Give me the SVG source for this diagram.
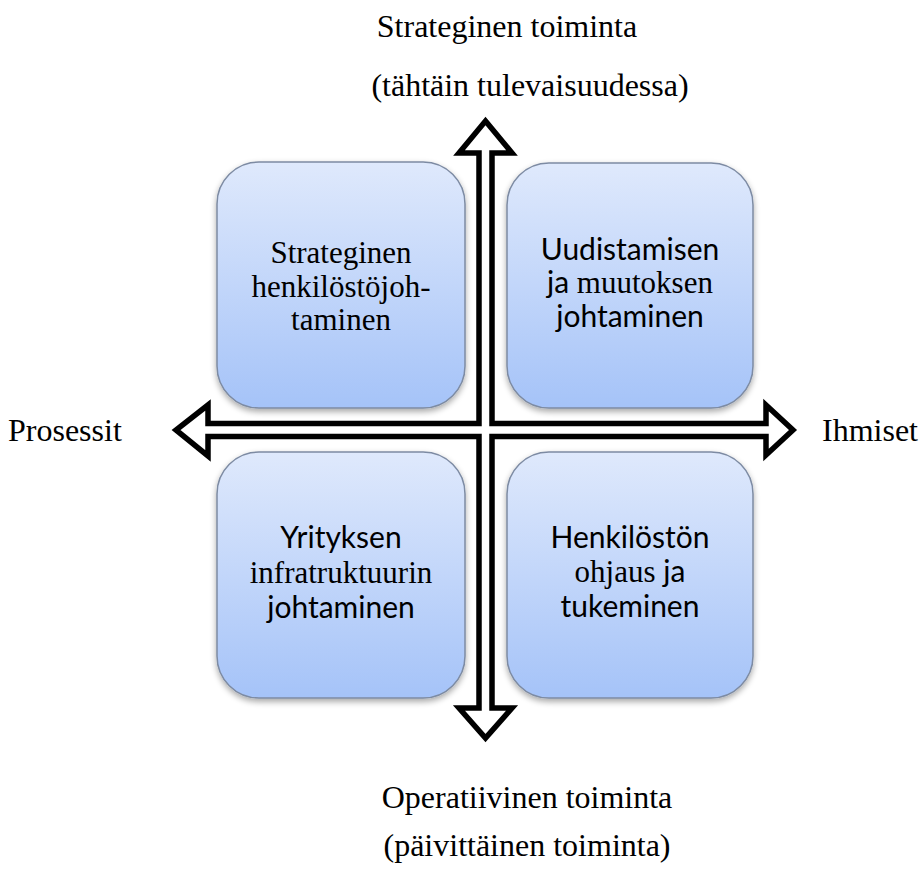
<svg xmlns="http://www.w3.org/2000/svg" width="923" height="870" viewBox="0 0 923 870">
  <style>
    .serif { font-family: "Liberation Serif", "Times New Roman", serif; font-size: 32px; fill: #000; }
    .bt { font-family: "Liberation Serif", serif; font-size: 31px; fill: #000; text-anchor: middle; }
    .sans { font-family: Lato, "Liberation Sans", sans-serif; font-size: 30px; }
    .rm { font-family: "Liberation Serif", serif; font-size: 31px; }
    .box { fill: url(#g); stroke: #7d8ba3; stroke-width: 1.5; filter: url(#sh); }
    .arrow { fill: #fff; stroke: #000; stroke-width: 5.5; stroke-linejoin: miter; }
  </style>
  <defs>
    <linearGradient id="g" x1="0" y1="0" x2="0" y2="1">
      <stop offset="0" stop-color="#dfe9fc"/>
      <stop offset="1" stop-color="#a5c3f8"/>
    </linearGradient>
    <filter id="sh" x="-10%" y="-10%" width="125%" height="125%">
      <feGaussianBlur in="SourceAlpha" stdDeviation="3"/>
      <feOffset dx="0" dy="3" result="b"/>
      <feComponentTransfer><feFuncA type="linear" slope="0.35"/></feComponentTransfer>
      <feMerge><feMergeNode/><feMergeNode in="SourceGraphic"/></feMerge>
    </filter>
  </defs>
  <rect width="923" height="870" fill="#fff"/>

  <g id="node-tl">
    <rect class="box" x="217" y="162" width="248" height="246" rx="42"/>
    <text class="bt" x="341" y="263">Strateginen</text>
    <text class="bt" x="341" y="297">henkilöstöjoh-</text>
    <text class="bt" x="341" y="330">taminen</text>
  </g>
  <g id="node-tr">
    <rect class="box" x="507" y="163" width="246" height="245" rx="42"/>
    <text class="bt" x="630" y="260"><tspan class="sans">Uudistamisen</tspan></text>
    <text class="bt" x="630" y="293"><tspan class="sans">ja </tspan><tspan class="rm">muutoksen</tspan></text>
    <text class="bt" x="630" y="327"><tspan class="sans">johtaminen</tspan></text>
  </g>
  <g id="node-bl">
    <rect class="box" x="217" y="452" width="248" height="246" rx="42"/>
    <text class="bt" x="341" y="548"><tspan class="sans">Yrityksen</tspan></text>
    <text class="bt" x="341" y="583">infratruktuurin</text>
    <text class="bt" x="341" y="618"><tspan class="sans">johtaminen</tspan></text>
  </g>
  <g id="node-br">
    <rect class="box" x="507" y="452" width="246" height="246" rx="42"/>
    <text class="bt" x="630" y="548"><tspan class="sans">Henkilöstön</tspan></text>
    <text class="bt" x="630" y="582"><tspan class="rm">ohjaus </tspan><tspan class="sans">ja</tspan></text>
    <text class="bt" x="630" y="617"><tspan class="sans">tukeminen</tspan></text>
  </g>

  <g id="connectors">
    <path class="arrow" d="M485.5,121 L512,153 L492,153 L492,423.5 L766,423.5 L766,405 L793,430 L766,455 L766,436.5 L492,436.5 L492,708 L512,708 L485.5,738 L459,708 L479,708 L479,436.5 L208,436.5 L208,456 L176,430 L208,405 L208,423.5 L479,423.5 L479,153 L459,153 Z"/>
  </g>

  <g id="labels">
    <text class="serif" x="507" y="37" text-anchor="middle">Strateginen toiminta</text>
    <text class="serif" x="530" y="96" text-anchor="middle">(tähtäin tulevaisuudessa)</text>
    <text class="serif" x="8" y="441">Prosessit</text>
    <text class="serif" x="822" y="441">Ihmiset</text>
    <text class="serif" x="527" y="808" text-anchor="middle">Operatiivinen toiminta</text>
    <text class="serif" x="527" y="856" text-anchor="middle">(päivittäinen toiminta)</text>
  </g>
</svg>
